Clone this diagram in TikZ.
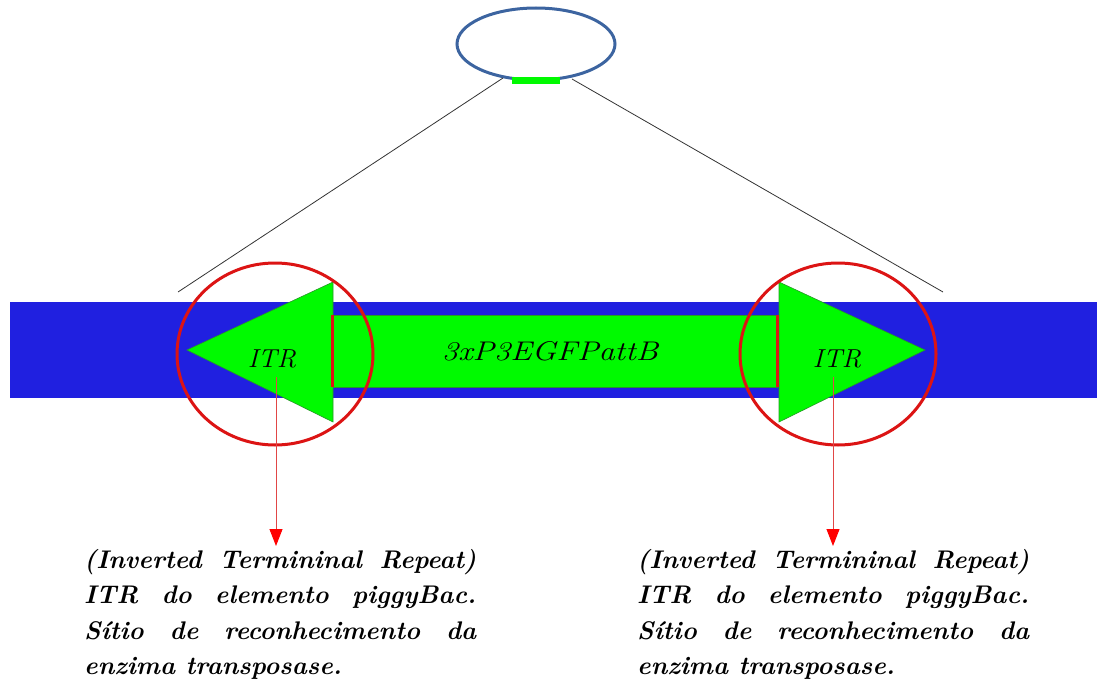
\documentclass[tikz,border=0pt]{standalone}
\usepackage{fontspec}
\usetikzlibrary{shapes.geometric,arrows.meta}
\definecolor{bandblue}{RGB}{32,32,224}
\definecolor{gfp}{RGB}{0,250,0}
\definecolor{gfpline}{RGB}{40,150,40}
\definecolor{ringred}{RGB}{220,20,20}
\definecolor{arrowred}{RGB}{225,70,70}
\definecolor{plasmidblue}{RGB}{60,100,160}
\tikzset{
  itrcircle/.style={draw=ringred,line width=3pt,ellipse,minimum width=196pt,minimum height=182pt,inner sep=0pt},
  greenshape/.style={fill=gfp,draw=gfpline,line width=0.6pt},
  label25/.style={font=\fontsize{26}{30}\selectfont\itshape,inner sep=0pt},
  noteblock/.style={text width=392pt,align=justify,inner sep=0pt,anchor=base west,
    font=\fontsize{25.5}{35.5}\selectfont\bfseries\itshape},
  pointer/.style={draw=arrowred,line width=1pt,-{Triangle[width=13pt,length=17pt,fill=red,color=red]}},
  zoomline/.style={draw=black!80,line width=0.8pt},
  redbar/.style={draw=ringred,line width=3pt}
}
\begin{document}
\begin{tikzpicture}[x=1pt,y=-1pt]
\useasboundingbox (0,0) rectangle (1097,682);
% chromosome band
\node[fill=bandblue,inner sep=0pt,minimum width=1087pt,minimum height=96pt,anchor=north west] (band) at (10,302) {};
% central cassette
\node[greenshape,inner sep=0pt,minimum width=445pt,minimum height=72pt,anchor=north west] (cassette) at (332,315) {};
% ITR triangles
\draw[greenshape] (187,350) -- (333,282) -- (333,422) -- cycle;
\draw[greenshape] (779,282) -- (925,350) -- (779,422) -- cycle;
% red bars
\draw[redbar] (332,315) -- (332,387);
\draw[redbar] (777,315) -- (777,387);
% labels
\node[label25,anchor=base] (itrL) at (272,367) {\scalebox{1.04}[1]{ITR}};
\node[label25,anchor=base] (itrR) at (837,367) {\scalebox{1.04}[1]{ITR}};
\node[label25,anchor=base,font=\fontsize{27}{30}\selectfont\itshape] (cassetteLabel) at (550,360) {\scalebox{1.2}[1]{3xP3EGFPattB}};
% circles
\node[itrcircle] (circL) at (275,354) {};
\node[itrcircle] (circR) at (838,354) {};
% plasmid
\node[draw=plasmidblue,line width=3pt,ellipse,minimum width=158pt,minimum height=72pt,inner sep=0pt] (plasmid) at (536,44) {};
\node[fill=gfp,inner sep=0pt,minimum width=48pt,minimum height=7pt] (insert) at (536,80.5) {};
% zoom lines
\coordinate (zl1) at (503,78);
\coordinate (zr1) at (572,79);
\coordinate (zl2) at (178,292);
\coordinate (zr2) at (943,292);
\draw[zoomline] (zl1) -- (zl2);
\draw[zoomline] (zr1) -- (zr2);
% notes
\node[noteblock] (noteL) at (84,568) {\hyphenpenalty=10000 (Inverted Termininal Repeat)\linebreak ITR do elemento piggyBac.\linebreak Sítio de reconhecimento da\linebreak enzima transposase.};
\node[noteblock] (noteR) at (637,568) {\hyphenpenalty=10000 (Inverted Termininal Repeat)\linebreak ITR do elemento piggyBac.\linebreak Sítio de reconhecimento da\linebreak enzima transposase.};
% pointers
\coordinate (pL) at (276,377);
\coordinate (pR) at (833,377);
\coordinate (tL) at (276,546);
\coordinate (tR) at (833,546);
\draw[pointer] (pL) -- (tL);
\draw[pointer] (pR) -- (tR);
\end{tikzpicture}
\end{document}
